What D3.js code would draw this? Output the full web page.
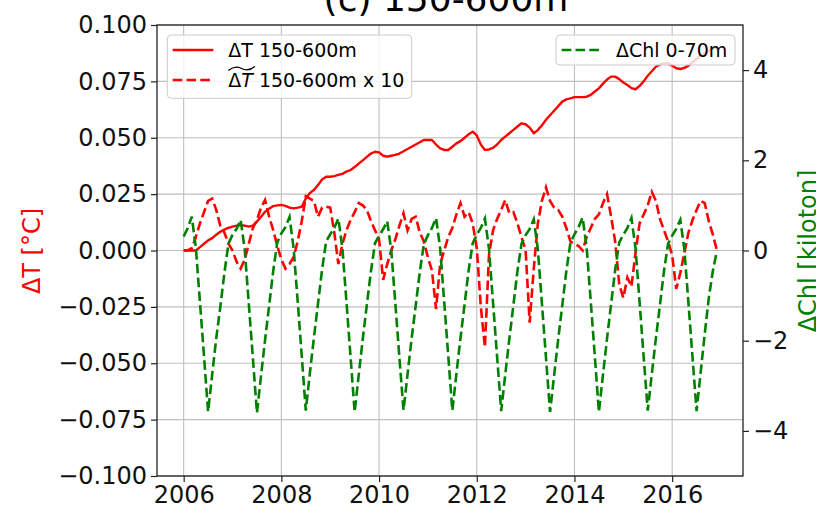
<!DOCTYPE html>
<html>
<head>
<meta charset="utf-8">
<script src="https://cdn.jsdelivr.net/npm/d3@7"></script>
<style>
  html, body { margin: 0; padding: 0; background: #fff; }
  svg { display: block; font-family: "DejaVu Sans", sans-serif; }
</style>
</head>
<body>
<svg id="chart" width="816" height="507"></svg>
<script>
// ---------------- DATA ----------------
const startYear = 2006;           // monthly series, Jan 2006 .. Dec 2016
const xTickYears = [2006, 2008, 2010, 2012, 2014, 2016];
const leftTicks = [-0.100, -0.075, -0.050, -0.025, 0.000, 0.025, 0.050, 0.075, 0.100];
const rightTicks = [-4, -2, 0, 2, 4];

// ΔT 150-600m (solid red, left axis)
const dT = [
  0.0000,0.0000,0.0000,0.0000,0.0015,0.0030,0.0045,0.0055,0.0070,0.0083,0.0093,0.0100,
  0.0106,0.0110,0.0113,0.0110,0.0106,0.0110,0.0128,0.0150,0.0172,0.0185,0.0197,0.0200,
  0.0202,0.0198,0.0190,0.0187,0.0190,0.0194,0.0230,0.0255,0.0268,0.0290,0.0315,0.0327,
  0.0327,0.0330,0.0335,0.0340,0.0350,0.0357,0.0370,0.0385,0.0400,0.0415,0.0430,0.0438,
  0.0435,0.0420,0.0416,0.0420,0.0424,0.0430,0.0440,0.0450,0.0460,0.0470,0.0480,0.0490,
  0.0490,0.0490,0.0470,0.0453,0.0446,0.0446,0.0460,0.0475,0.0485,0.0500,0.0515,0.0527,
  0.0510,0.0470,0.0446,0.0448,0.0455,0.0470,0.0490,0.0505,0.0520,0.0535,0.0550,0.0564,
  0.0560,0.0545,0.0520,0.0534,0.0555,0.0580,0.0600,0.0620,0.0640,0.0660,0.0670,0.0675,
  0.0680,0.0680,0.0680,0.0682,0.0690,0.0705,0.0719,0.0740,0.0758,0.0771,0.0771,0.0760,
  0.0745,0.0734,0.0720,0.0715,0.0730,0.0750,0.0775,0.0795,0.0815,0.0825,0.0830,0.0830,
  0.0820,0.0808,0.0805,0.0810,0.0820,0.0835,0.0850,0.0865,0.0875,0.0885,0.0895,0.0900
];

// ΔT~ 150-600m x 10 (dashed red, left axis)
const dTx10 = [
  0.000,0.000,0.001,0.006,0.012,0.017,0.022,0.023,0.018,0.011,0.008,0.003,
  0.000,-0.005,-0.008,-0.004,0.003,0.010,0.0135,0.019,0.0224,0.015,0.009,0.002,
  -0.004,-0.008,-0.006,-0.003,0.004,0.013,0.024,0.023,0.022,0.015,0.019,0.0194,
  0.019,0.008,-0.006,0.003,0.009,0.0135,0.017,0.021,0.020,0.018,0.013,0.009,
  0.005,-0.013,-0.006,0.000,0.005,0.011,0.0165,0.009,0.014,0.015,0.008,0.004,
  -0.003,-0.009,-0.026,-0.006,0.000,0.006,0.010,0.016,0.021,0.015,0.017,0.012,
  0.001,-0.025,-0.043,-0.002,0.009,0.014,0.018,0.0224,0.0165,0.017,0.012,0.006,
  0.000,-0.032,-0.008,0.012,0.022,0.028,0.022,0.019,0.018,0.015,0.010,0.004,
  0.003,0.002,0.000,0.006,0.010,0.014,0.016,0.021,0.025,0.015,0.004,-0.015,
  -0.021,-0.012,-0.016,-0.001,0.012,0.016,0.020,0.026,0.022,0.014,0.009,0.004,
  -0.002,-0.017,-0.010,-0.001,0.008,0.0135,0.018,0.022,0.021,0.013,0.007,0.000
];

// ΔChl 0-70m (dashed green, right axis, kiloton)
const dChl = [
  0.31,0.50,0.75,0.05,-1.15,-2.35,-3.57,-2.75,-1.95,-1.25,-0.50,0.15,
  0.35,0.48,0.68,0.02,-1.18,-2.38,-3.60,-2.78,-1.98,-1.22,-0.45,0.18,
  0.38,0.52,0.74,0.06,-1.12,-2.33,-3.55,-2.72,-1.93,-1.18,-0.42,0.20,
  0.36,0.50,0.71,0.04,-1.15,-2.36,-3.58,-2.76,-1.96,-1.20,-0.46,0.16,
  0.33,0.47,0.65,0.00,-1.18,-2.38,-3.54,-2.74,-1.95,-1.22,-0.48,0.14,
  0.34,0.50,0.72,0.05,-1.14,-2.34,-3.55,-2.73,-1.94,-1.20,-0.44,0.16,
  0.35,0.50,0.71,0.04,-1.16,-2.36,-3.56,-2.75,-1.96,-1.21,-0.45,0.15,
  0.34,0.48,0.69,0.03,-1.17,-2.37,-3.58,-2.77,-1.97,-1.22,-0.46,0.17,
  0.36,0.52,0.73,0.06,-1.13,-2.35,-3.58,-2.76,-1.95,-1.19,-0.43,0.18,
  0.35,0.50,0.72,0.05,-1.15,-2.36,-3.55,-2.74,-1.95,-1.21,-0.45,0.15,
  0.33,0.48,0.68,0.02,-1.17,-2.37,-3.56,-2.70,-1.85,-1.05,-0.45,0.00
];

const titleText = "(c) 150-600m";
const leftLabel = "ΔT [°C]";
const rightLabel = "ΔChl [kiloton]";

// ---------------- LAYOUT ----------------
const RED = "#ff0000", GREEN = "#008000";
const plot = { left: 157, right: 743, top: 25, bottom: 476 };
const times = dT.map((_, i) => startYear + i / 12);

const x = d3.scaleLinear().domain([2005.454, 2017.45]).range([plot.left, plot.right]);
const yL = d3.scaleLinear().domain([-0.1, 0.1]).range([plot.bottom, plot.top]);
const yR = d3.scaleLinear().domain([-5, 5]).range([plot.bottom, plot.top]);

const svg = d3.select("#chart");

// clip
svg.append("defs").append("clipPath").attr("id", "clip")
  .append("rect").attr("x", plot.left).attr("y", plot.top)
  .attr("width", plot.right - plot.left).attr("height", plot.bottom - plot.top);

// grid
const grid = svg.append("g").attr("stroke", "#b0b0b0").attr("stroke-width", 1.1).attr("opacity", 0.8);
grid.selectAll("line.v").data(xTickYears).join("line")
  .attr("x1", d => x(d)).attr("x2", d => x(d)).attr("y1", plot.top).attr("y2", plot.bottom);
grid.selectAll("line.h").data(leftTicks).join("line")
  .attr("y1", d => yL(d)).attr("y2", d => yL(d)).attr("x1", plot.left).attr("x2", plot.right);

const lines = svg.append("g").attr("clip-path", "url(#clip)").attr("fill", "none");

const lineL = (arr) => d3.line().x((d, i) => x(times[i])).y(d => yL(d))(arr);
const lineR = (arr) => d3.line().x((d, i) => x(times[i])).y(d => yR(d))(arr);

lines.append("path").attr("d", lineL(dT)).attr("stroke", RED).attr("stroke-width", 2.4)
  .attr("stroke-linejoin", "round");
lines.append("path").attr("d", lineL(dTx10)).attr("stroke", RED).attr("stroke-width", 2.6)
  .attr("stroke-dasharray", "9.6,4.2");

// left legend
function legendBox(g, x0, y0, w, h) {
  g.append("rect").attr("x", x0).attr("y", y0).attr("width", w).attr("height", h)
    .attr("rx", 4).attr("fill", "#fff").attr("fill-opacity", 0.8)
    .attr("stroke", "#cccccc").attr("stroke-width", 1);
}
const legL = svg.append("g");
legendBox(legL, 167.3, 35, 244.4, 63.3);
legL.append("line").attr("x1", 172.7).attr("x2", 213.3).attr("y1", 50).attr("y2", 50)
  .attr("stroke", RED).attr("stroke-width", 2.4);
legL.append("text").attr("x", 228.3).attr("y", 50).attr("dy", "0.36em")
  .attr("font-size", 19).attr("fill", "#000").text("ΔT 150-600m");
legL.append("line").attr("x1", 172.7).attr("x2", 213.3).attr("y1", 80).attr("y2", 80)
  .attr("stroke", RED).attr("stroke-width", 2.6).attr("stroke-dasharray", "9.6,4.2");
const t2 = legL.append("text").attr("x", 228.3).attr("y", 80).attr("dy", "0.36em")
  .attr("font-size", 19).attr("fill", "#000");
t2.append("tspan").text("Δ");
t2.append("tspan").attr("font-style", "italic").text("T");
const w1 = t2.node().getComputedTextLength();
t2.append("tspan").text(" 150-600m x 10");
// wide tilde over ΔT
{
  const x0 = 228.3, w = w1 + 2, ty = 68.5;
  const p = d3.path();
  p.moveTo(x0, ty + 2);
  p.quadraticCurveTo(x0 + w * 0.25, ty - 3.5, x0 + w * 0.5, ty);
  p.quadraticCurveTo(x0 + w * 0.75, ty + 3.5, x0 + w, ty - 2);
  legL.append("path").attr("d", p.toString()).attr("fill", "none")
    .attr("stroke", "#000").attr("stroke-width", 1.3);
}

// green series (twin axis, drawn after ax1)
const lines2 = svg.append("g").attr("clip-path", "url(#clip)").attr("fill", "none");
lines2.append("path").attr("d", lineR(dChl)).attr("stroke", GREEN).attr("stroke-width", 2.6)
  .attr("stroke-dasharray", "9.6,4.2");

// right legend
const legR = svg.append("g");
legendBox(legR, 556, 35, 179, 30);
legR.append("line").attr("x1", 561.7).attr("x2", 600).attr("y1", 50).attr("y2", 50)
  .attr("stroke", GREEN).attr("stroke-width", 2.6).attr("stroke-dasharray", "9.6,4.2");
legR.append("text").attr("x", 616).attr("y", 50).attr("dy", "0.36em")
  .attr("font-size", 19).attr("fill", "#000").text("ΔChl 0-70m");

// frame
svg.append("rect").attr("x", plot.left).attr("y", plot.top)
  .attr("width", plot.right - plot.left).attr("height", plot.bottom - plot.top)
  .attr("fill", "none").attr("stroke", "#222").attr("stroke-width", 1.3);

// axes
const fmtL = d3.format(".3f");
const axL = d3.axisLeft(yL).tickValues(leftTicks).tickFormat(fmtL).tickSize(6).tickPadding(4);
const axR = d3.axisRight(yR).tickValues(rightTicks).tickFormat(d3.format("d")).tickSize(6).tickPadding(4);
const axB = d3.axisBottom(x).tickValues(xTickYears).tickFormat(d3.format("d")).tickSize(6).tickPadding(4);

function styleAxis(g) {
  g.select(".domain").remove();
  g.selectAll(".tick line").attr("stroke", "#222").attr("stroke-width", 1.2);
  g.selectAll(".tick text").attr("font-size", 24).attr("fill", "#111")
    .attr("font-family", "DejaVu Sans, sans-serif");
}
svg.append("g").attr("transform", `translate(${plot.left},0)`).call(axL).call(styleAxis);
svg.append("g").attr("transform", `translate(${plot.right},0)`).call(axR).call(styleAxis);
svg.append("g").attr("transform", `translate(0,${plot.bottom})`).call(axB).call(styleAxis);

// axis labels
svg.append("text").attr("transform", "translate(39.5,251) rotate(-90)")
  .attr("text-anchor", "middle").attr("font-size", 24).attr("fill", RED).text(leftLabel);
svg.append("text").attr("transform", "translate(815.5,251) rotate(-90)")
  .attr("text-anchor", "middle").attr("font-size", 24).attr("fill", GREEN).text(rightLabel);

// title (partly cut at top)
svg.append("text").attr("x", (plot.left + plot.right) / 2 - 4).attr("y", 11)
  .attr("text-anchor", "middle").attr("font-size", 36).attr("fill", "#000").text(titleText);
</script>
</body>
</html>
